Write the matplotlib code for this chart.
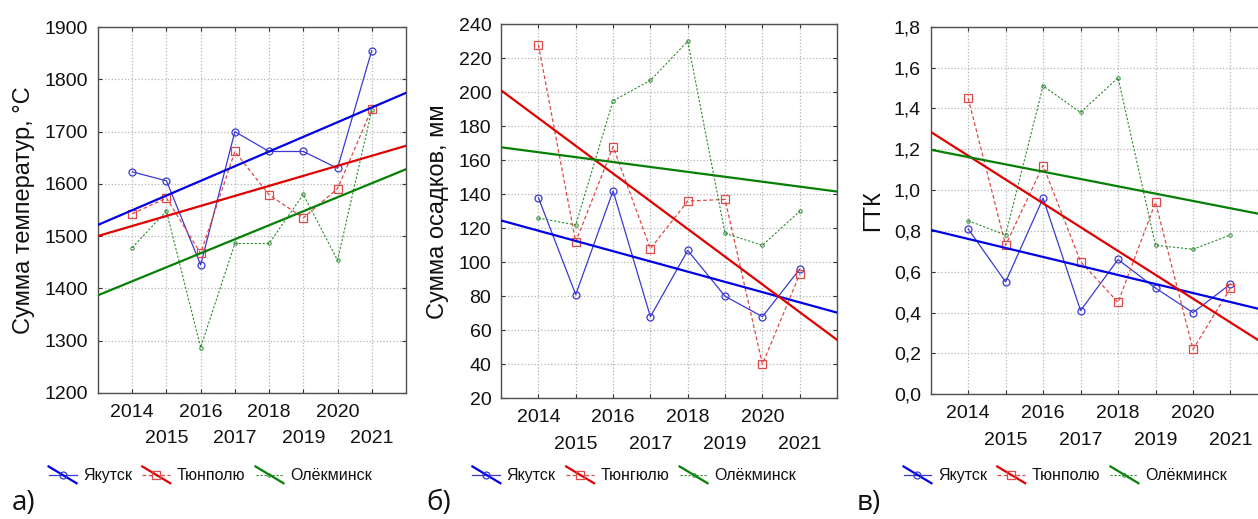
import numpy as np
import matplotlib
matplotlib.use("Agg")
import matplotlib.pyplot as plt
from matplotlib.legend_handler import HandlerBase
from matplotlib.lines import Line2D
from matplotlib.ticker import FuncFormatter

plt.rcParams['font.family'] = ['Liberation Sans', 'DejaVu Sans']

years = np.array([2014, 2015, 2016, 2017, 2018, 2019, 2020, 2021])

# сумма температур, °C
temp_yakutsk = [1623, 1606, 1445, 1700, 1662, 1662, 1630, 1855]
temp_tyungyulyu = [1543, 1573, 1467, 1662, 1579, 1535, 1591, 1743]
temp_olekminsk = [1478, 1548, 1287, 1486, 1486, 1580, 1454, 1741]

# сумма осадков, мм
prec_yakutsk = [138, 81, 142, 68, 107, 80, 68, 96]
prec_tyungyulyu = [228, 112, 168, 108, 136, 137, 40, 93]
prec_olekminsk = [126, 122, 195, 207, 230, 117, 110, 130]

# ГТК
gtk_yakutsk = [0.81, 0.55, 0.96, 0.41, 0.66, 0.52, 0.40, 0.54]
gtk_tyungyulyu = [1.45, 0.73, 1.12, 0.65, 0.45, 0.94, 0.22, 0.52]
gtk_olekminsk = [0.85, 0.78, 1.51, 1.38, 1.55, 0.73, 0.71, 0.78]

labels_a = ['Якутск', 'Тюнполю', 'Олёкминск']
labels_b = ['Якутск', 'Тюнгюлю', 'Олёкминск']
labels_c = ['Якутск', 'Тюнполю', 'Олёкминск']

styles = [
    dict(color='#3a3ad2', lw=0.9, ls='-', marker='o', ms=5, mfc='none', mew=0.9),
    dict(color='#e04848', lw=0.9, ls=(0, (3, 2)), marker='s', ms=5.5, mfc='none', mew=0.9),
    dict(color='#2e8b2e', lw=0.8, ls=(0, (2, 1.6)), marker='o', ms=2.5, mfc='none', mew=0.7),
]
trend_colors = ['#0000e6', '#e00000', '#058005']


class TrendHandler(HandlerBase):
    """Statistica-like legend key: data line with marker, crossed by the fit line."""

    def create_artists(self, legend, orig_handle, xdescent, ydescent,
                       width, height, fontsize, trans):
        data, fit = orig_handle
        x0, x1 = -xdescent, width - xdescent
        ym = height / 2 - ydescent
        line = Line2D([x0, x1], [ym, ym])
        line.update_from(data)
        line.set_marker('None')
        mark = Line2D([(x0 + x1) / 2], [ym])
        mark.update_from(data)
        mark.set_linestyle('None')
        slant = Line2D([x0, x1], [ym + height * 0.75, ym - height * 0.75])
        slant.update_from(fit)
        for a in (line, slant, mark):
            a.set_transform(trans)
            a.set_clip_on(False)
            a.set_clip_box(None)
        return [line, slant, mark]


def draw_panel(ax, series, ylim, yticks, ylabel, fmt=None):
    handles = []
    xfit = np.array([2013, 2022])
    for vals, st, tc in zip(series, styles, trend_colors):
        d, = ax.plot(years, vals, zorder=3, **st)
        k, b = np.polyfit(years, vals, 1)
        f, = ax.plot(xfit, k * xfit + b, color=tc, lw=1.6, zorder=4)
        handles.append((d, f))
    ax.set_xlim(2013, 2022)
    ax.set_ylim(*ylim)
    ax.set_yticks(yticks)
    if fmt:
        ax.yaxis.set_major_formatter(FuncFormatter(fmt))
    ax.set_xticks(years[::2])
    ax.set_xticks(years[1::2], minor=True)
    ax.set_xticklabels([str(y) for y in years[::2]])
    ax.set_xticklabels([str(y) for y in years[1::2]], minor=True)
    ax.grid(True, which='both', color='#b4b4b4', ls=':', lw=0.9)
    ax.tick_params(which='both', direction='in', length=3, width=0.8,
                   top=True, right=True, colors='#333333', labelcolor='#111111',
                   labelsize=14)
    ax.tick_params(axis='y', pad=7)
    ax.tick_params(axis='x', which='major', pad=8)
    ax.tick_params(axis='x', which='minor', pad=27)
    for s in ax.spines.values():
        s.set_color('#505050')
        s.set_linewidth(1.0)
    ax.set_ylabel(ylabel, fontsize=17, color='#111111', labelpad=7)
    return handles


fig = plt.figure(figsize=(12.58, 5.19), dpi=100)
ax_a = fig.add_axes([0.0779, 0.2428, 0.2448, 0.705])
ax_b = fig.add_axes([0.3983, 0.2326, 0.2671, 0.7206])
ax_c = fig.add_axes([0.7398, 0.2403, 0.2681, 0.7083])

comma = lambda v, p: f'{v:.1f}'.replace('.', ',')

h_a = draw_panel(ax_a, [temp_yakutsk, temp_tyungyulyu, temp_olekminsk],
                 (1200, 1900), np.arange(1200, 1901, 100), 'Сумма температур, °C')
h_b = draw_panel(ax_b, [prec_yakutsk, prec_tyungyulyu, prec_olekminsk],
                 (20, 240), np.arange(20, 241, 20), 'Сумма осадков, мм')
h_c = draw_panel(ax_c, [gtk_yakutsk, gtk_tyungyulyu, gtk_olekminsk],
                 (0, 1.8), np.arange(0, 1.81, 0.2), 'ГТК', fmt=comma)

for h, labs, cx in [(h_a, labels_a, 0.167), (h_b, labels_b, 0.504), (h_c, labels_c, 0.8466)]:
    fig.legend(h, labs, handler_map={tuple: TrendHandler()}, loc='center',
               bbox_to_anchor=(cx, 0.083), ncol=3, frameon=False, fontsize=11.5,
               handlelength=1.75, handletextpad=0.4, columnspacing=0.65,
               labelcolor='#111111')

for x, t in [(0.009, 'а)'), (0.339, 'б)'), (0.681, 'в)')]:
    fig.text(x, 0.004, t, fontsize=20, family=['Open Sans', 'DejaVu Sans'],
             color='#111111', va='bottom')

fig.savefig('out.png', dpi=100)
